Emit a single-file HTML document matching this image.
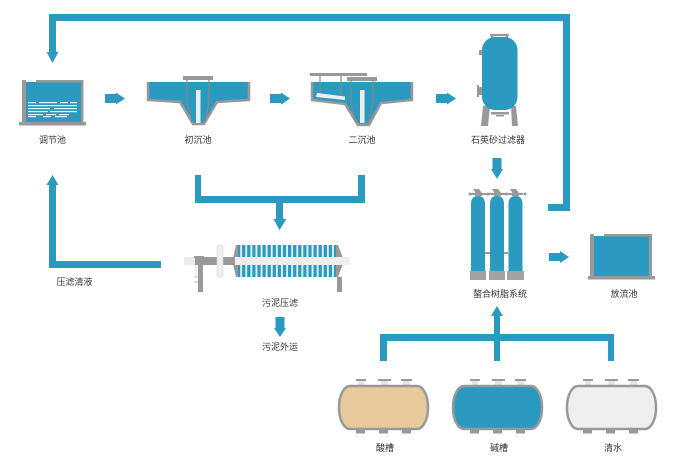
<!DOCTYPE html>
<html><head><meta charset="utf-8"><style>
html,body{margin:0;padding:0;background:#fff}
svg{display:block;filter:blur(.35px)}
text{font-family:"Liberation Sans","Noto Sans CJK SC",sans-serif;font-size:9px;fill:#333;text-anchor:middle}
</style></head><body>
<svg width="682" height="460" viewBox="0 0 682 460" xmlns="http://www.w3.org/2000/svg">
<defs>
<pattern id="st" x="237" y="0" width="5.1" height="10" patternUnits="userSpaceOnUse"><rect width="5.1" height="10" fill="#e6eef1"/><rect width="3.200" height="10" fill="#2a9ac1"/></pattern>
</defs>
<!-- pipes -->
<g fill="#2a9ac1">
<path d="M548 204H563V21H56V52H58.5L52.5 63L46.5 52H49V14H570V211H548Z"/>
<path d="M195 175H201V196H358V175H365V203H283V219H286.500L279.500 230L273.500 219H276V203H195Z"/>
<path d="M161 261V268H49V185H46.500L52.500 175L58.500 185H56V261Z"/>
<path d="M380 361V334H494V316H491L497 306L503 316H500V334H614V361H608V341H500V361H494V341H387V361Z"/>
<path d="M105 94H116V92.500L125 98.500L116 104.500V103H105Z"/>
<path d="M270 94H281V92.500L290 98.500L281 104.500V103H270Z"/>
<path d="M436 94H447V92.500L456 98.500L447 104.500V103H436Z"/>
<path d="M549 253H560V251L569 257L560 263V261H549Z"/>
<path d="M492.500 158H501.500V169H503L497 179L491 169H492.500Z"/>
<path d="M275.500 317H284.500V328H286L280 337L274 328H275.500Z"/>
</g>
<!-- equalization tank -->
<rect x="25" y="82" width="56" height="41" fill="#2a9ac1"/>
<path d="M22 122V80H26V122ZM36 80H83.500V122H81V82.500H36ZM19 122H86V125.500H19Z" fill="#999"/>
<g fill="#eaf3f6">
<rect x="28" y="102" width="8" height="1.200"/><rect x="39" y="102" width="18" height="1.200"/><rect x="60" y="102" width="8" height="1.200"/><rect x="70" y="102" width="7" height="1.200"/>
<rect x="28" y="105" width="49" height="1.200"/><rect x="28" y="108" width="22" height="1.200"/><rect x="54" y="108" width="23" height="1.200"/>
<rect x="28" y="111" width="20" height="1.200"/><rect x="50" y="111" width="27" height="1.200"/><rect x="28" y="114" width="15" height="1.200"/><rect x="46" y="114" width="10" height="1.200"/><rect x="59" y="114" width="10" height="1.200"/>
<rect x="28" y="116" width="8" height="1.200"/><rect x="43" y="116" width="8" height="1.200"/><rect x="55" y="116" width="12" height="1.200"/>
</g>
<!-- primary clarifier -->
<path d="M148 82H249V100L217 102L204 124H193L180 102L148 100Z" fill="#2a9ac1"/>
<path d="M148 82V100L180 102L193 124H204L217 102L249 100V82" fill="none" stroke="#999" stroke-width="2.500"/>
<path d="M187 79V102L192 122M209 79V102L205 122" fill="none" stroke="#888" stroke-width="1.200"/>
<rect x="183" y="76" width="30" height="4" fill="#999"/>
<rect x="196" y="90" width="4.500" height="33" fill="#eee"/>
<!-- secondary clarifier -->
<path d="M312 82H412V100L381 103L369 125H358L345 104L312 100Z" fill="#2a9ac1"/>
<path d="M312 82V100L345 104L358 125H369L381 103L412 100V82" fill="none" stroke="#999" stroke-width="2.500"/>
<rect x="310" y="73" width="57" height="3" fill="#999"/>
<rect x="347" y="77" width="30" height="4" fill="#999"/>
<path d="M320 76V94M341 76V98M351 80V105L356 123M373 80V104L368 123" fill="none" stroke="#888" stroke-width="1.200"/>
<path d="M317 93L345 96.500V100L316 97Z" fill="#eee"/>
<rect x="360" y="90" width="4.500" height="33" fill="#eee"/>
<!-- sand filter -->
<path d="M483 106L481 126H488L490 106ZM511 106L512 126H518L516 106Z" fill="#999"/>
<rect x="490" y="34" width="19" height="2" fill="#999"/><rect x="491" y="34" width="2.500" height="4" fill="#999"/><rect x="505.500" y="34" width="2.500" height="4" fill="#999"/>
<rect x="479" y="50" width="3" height="5" fill="#999"/><rect x="477" y="85" width="2" height="12" fill="#999"/><rect x="479" y="87" width="3" height="8" fill="#999"/>
<rect x="491" y="112" width="18" height="2.500" fill="#999"/><rect x="496" y="115" width="8" height="1.500" fill="#999"/>
<rect x="482" y="37" width="35.500" height="73" rx="13" ry="13" fill="#2a9ac1"/>
<!-- filter press -->
<rect x="184" y="257" width="12" height="8" fill="#ececec"/>
<rect x="195" y="257" width="40" height="8" fill="#999"/>
<rect x="194" y="256" width="10" height="2" fill="#999"/>
<rect x="195" y="265" width="2" height="12" fill="#eee"/>
<rect x="198" y="265" width="5" height="27" fill="#999"/>
<rect x="194" y="276" width="4" height="2" fill="#ddd"/><rect x="194" y="281" width="4" height="2" fill="#ddd"/>
<rect x="217" y="245" width="6" height="32" rx="1" fill="#eee" stroke="#ddd" stroke-width=".6"/>
<path d="M233 258L236 245H338L343 258V264L338 277H236L233 264Z" fill="#999"/>
<rect x="238" y="245" width="98" height="32" fill="url(#st)"/>
<rect x="235" y="257" width="115" height="8" fill="#eee"/>
<rect x="337" y="277" width="5" height="15" fill="#999"/>
<!-- resin columns -->
<path d="M471 194H523" stroke="#999" stroke-width="2"/>
<circle cx="470" cy="194" r="1.500" fill="#999"/><circle cx="488" cy="194" r="1.500" fill="#999"/><circle cx="506" cy="194" r="1.500" fill="#999"/><circle cx="525" cy="194" r="1.500" fill="#999"/>
<g fill="#999"><path d="M473 189H479L482 193V196H475V192Z"/><path d="M492 189H498L501 193V196H494V192Z"/><path d="M510 189H516L519 193V196H512V192Z"/></g>
<path d="M485 253H490M504 253H508" stroke="#999" stroke-width="2"/>
<g fill="#2a9ac1">
<path d="M471 271V204Q471 196 478 196Q485 196 485 204V271Z"/>
<path d="M490 271V204Q490 196 497 196Q504 196 504 204V271Z"/>
<path d="M508.500 271V204Q508.500 196 515.500 196Q522.500 196 522.500 204V271Z"/>
</g>
<g fill="#a2a2a2"><rect x="470" y="271" width="16" height="9"/><rect x="489" y="271" width="16" height="9"/><rect x="507" y="271" width="17" height="9"/></g>
<!-- outlet tank -->
<rect x="593" y="236" width="56" height="40" fill="#2a9ac1"/>
<path d="M590 276V234H594V276ZM604 234H652V276H649V236.500H604ZM588 276H655V279.500H588Z" fill="#999"/>
<!-- bottom tanks -->
<g id="nz" fill="#999">
<rect x="358" y="380" width="6" height="6" fill="#e4e4e4"/><rect x="356" y="379" width="10" height="2"/>
<rect x="381" y="380" width="7" height="6" fill="#e4e4e4"/><rect x="378" y="379" width="13" height="2"/>
<rect x="403" y="380" width="7" height="6" fill="#e4e4e4"/><rect x="401" y="379" width="11" height="2"/>
<rect x="356" y="429" width="9" height="4.500"/><rect x="379" y="429" width="9" height="4.500"/><rect x="402" y="429" width="9" height="4.500"/>
</g>
<use href="#nz" x="114"/><use href="#nz" x="227"/>
<rect x="339" y="386" width="89" height="43" rx="11" ry="21" fill="#e8c99b" stroke="#999" stroke-width="2.500"/>
<rect x="453" y="386" width="89" height="43" rx="11" ry="21" fill="#2a9ac1" stroke="#999" stroke-width="2.500"/>
<rect x="567" y="386" width="89" height="43" rx="11" ry="21" fill="#efefef" stroke="#999" stroke-width="2.500"/>
<!-- labels -->
<text x="52.500" y="143">调节池</text>
<text x="198" y="143">初沉池</text>
<text x="362" y="143">二沉池</text>
<text x="498" y="143">石英砂过滤器</text>
<text x="74.500" y="285">压滤清液</text>
<text x="280" y="306">污泥压滤</text>
<text x="280" y="350">污泥外运</text>
<text x="500" y="297">螯合树脂系统</text>
<text x="624" y="297">放流池</text>
<text x="385" y="451">酸槽</text>
<text x="499" y="451">碱槽</text>
<text x="613" y="451">清水</text>
</svg>
</body></html>
